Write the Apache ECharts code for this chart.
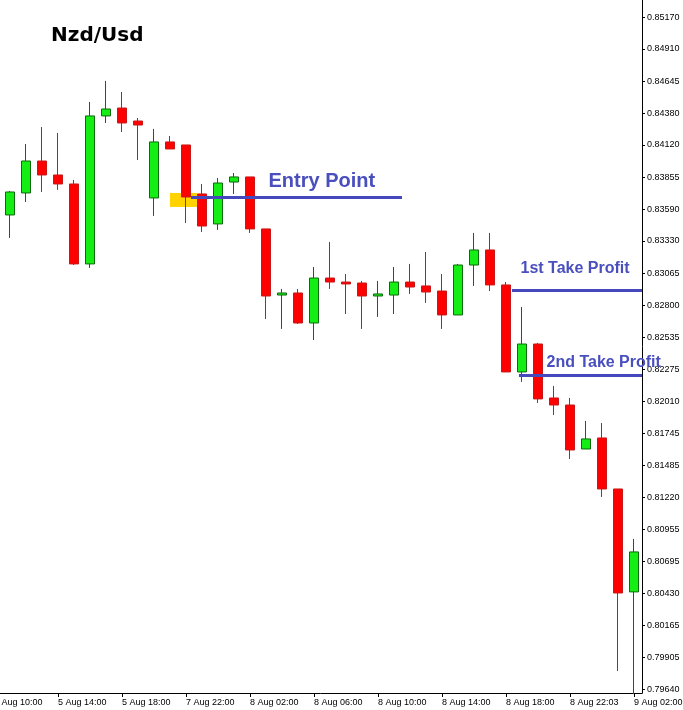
<!DOCTYPE html>
<html>
<head>
<meta charset="utf-8">
<script src="https://cdn.jsdelivr.net/npm/echarts@6/dist/echarts.min.js"></script>
<style>html,body{margin:0;padding:0;background:#fff}#c{width:683px;height:710px}</style>
</head>
<body>
<div id="c"></div>
<script>
// time slots (slot 0 is the partially hidden 5 Aug 10:00 bar)
const times = ['5 Aug 10:00','5 Aug 11:00','5 Aug 12:00','5 Aug 13:00','5 Aug 14:00','5 Aug 15:00','5 Aug 16:00','5 Aug 17:00',
  '5 Aug 18:00','7 Aug 19:00','7 Aug 20:00','7 Aug 21:00','7 Aug 22:00','7 Aug 23:00','8 Aug 00:00','8 Aug 01:00',
  '8 Aug 02:00','8 Aug 03:00','8 Aug 04:00','8 Aug 05:00','8 Aug 06:00','8 Aug 07:00','8 Aug 08:00','8 Aug 09:00',
  '8 Aug 10:00','8 Aug 11:00','8 Aug 12:00','8 Aug 13:00','8 Aug 14:00','8 Aug 15:00','8 Aug 16:00','8 Aug 17:00',
  '8 Aug 18:00','8 Aug 19:00','8 Aug 20:00','8 Aug 21:00','8 Aug 22:03','8 Aug 23:00','9 Aug 00:00','9 Aug 01:00','9 Aug 02:00'];
const xLabelSlots = [0,4,8,12,16,20,24,28,32,36,40];

// candles for slots 1..40
const opens  = [0.83543,0.83724,0.83987,0.83872,0.83798,0.83140,0.84358,0.84423,0.84316,0.83683,
                0.84144,0.84119,0.83716,0.83469,0.83814,0.83856,0.83428,0.82884,0.82901,0.82654,
                0.83024,0.82991,0.82983,0.82876,0.82884,0.82991,0.82959,0.82917,0.82720,0.83131,
                0.83255,0.82967,0.82251,0.82481,0.82037,0.81979,0.81617,0.81708,0.81288,0.80441];
const closes = [0.83732,0.83987,0.83872,0.83798,0.83140,0.84358,0.84415,0.84300,0.84283,0.84144,
                0.84086,0.83691,0.83452,0.83806,0.83856,0.83428,0.82876,0.82901,0.82654,0.83024,
                0.82991,0.82975,0.82876,0.82893,0.82991,0.82950,0.82909,0.82720,0.83131,0.83255,
                0.82967,0.82251,0.82481,0.82029,0.81979,0.81609,0.81700,0.81288,0.80432,0.80770];
const lows   = [0.83354,0.83650,0.83732,0.83749,0.83131,0.83107,0.84300,0.84226,0.83995,0.83535,
                0.84086,0.83477,0.83403,0.83419,0.83716,0.83395,0.82687,0.82605,0.82646,0.82514,
                0.82934,0.82728,0.82605,0.82704,0.82728,0.82893,0.82819,0.82605,0.82720,0.82959,
                0.82917,0.82251,0.82169,0.81996,0.81897,0.81535,0.81617,0.81222,0.79790,0.79600];
const highs  = [0.83740,0.84127,0.84267,0.84218,0.83831,0.84473,0.84646,0.84555,0.84341,0.84251,
                0.84193,0.84119,0.83798,0.83847,0.83888,0.83856,0.83428,0.82934,0.82934,0.83115,
                0.83321,0.83057,0.83000,0.83000,0.83115,0.83140,0.83238,0.83057,0.83140,0.83395,
                0.83395,0.82991,0.82786,0.82490,0.82136,0.82037,0.81848,0.81831,0.81288,0.80877];

const yTickValues = [0.79640,0.79905,0.80165,0.80430,0.80695,0.80955,0.81220,0.81485,0.81745,0.82010,0.82275,
                     0.82535,0.82800,0.83065,0.83330,0.83590,0.83855,0.84120,0.84380,0.84645,0.84910,0.85170];

const title = 'Nzd/Usd';
const lastPrice = 0.81889;

// annotation levels (in slot / price units)
const levelValues = [0.83687, 0.82926, 0.82222];
const levelFrom   = [12.31, 32.375, 32.81];
const levelTo     = [25.5, 40.5, 40.5];
const noteTexts   = ['Entry Point', '1st Take Profit', '2nd Take Profit'];
const noteX       = [17.125, 32.875, 34.5];
const noteY       = [0.83818, 0.83103, 0.82325];
const entryZoneX  = [11.0, 12.69];
const entryZoneY  = [0.83724, 0.83609];

const candleData = opens.map((o, i) => [i + 1, o, closes[i], lows[i], highs[i]]);
const blue = '#4449BE';

const chart = echarts.init(document.getElementById('c'), null, {renderer: 'canvas'});
chart.setOption({
  animation: false,
  backgroundColor: '#ffffff',
  title: {
    text: title, left: 51, top: 26, padding: 0,
    textStyle: {fontFamily: 'DejaVu Sans', fontWeight: 'bold', fontSize: 20, color: '#000'}
  },
  grid: {left: -14, right: 41, top: 0, bottom: 17, containLabel: false, outerBoundsMode: 'none'},
  xAxis: {
    type: 'value', min: -0.5, max: 40.5,
    splitLine: {show: false},
    axisLine: {show: true, onZero: false, lineStyle: {color: '#000', width: 1}},
    axisTick: {show: true, customValues: xLabelSlots, length: 4, lineStyle: {color: '#000'}},
    axisLabel: {
      customValues: xLabelSlots, formatter: v => times[Math.round(v)] || '',
      align: 'left', fontSize: 9, fontFamily: 'Liberation Sans', color: '#000', margin: 5
    }
  },
  yAxis: {
    type: 'value', position: 'right', min: 0.79609, max: 0.85312, scale: true,
    splitLine: {show: false},
    axisLine: {show: true, onZero: false, lineStyle: {color: '#000', width: 1}},
    axisTick: {show: true, customValues: yTickValues, length: 3, lineStyle: {color: '#000'}},
    axisLabel: {
      customValues: yTickValues, formatter: v => v.toFixed(5),
      fontSize: 9, fontFamily: 'Liberation Sans', color: '#000', margin: 5
    }
  },
  series: [
    {
      type: 'candlestick',
      data: candleData,
      barWidth: 10,
      clip: true,
      itemStyle: {
        color: '#14EE14', borderColor: '#0B6B0B',
        color0: '#FF0000', borderColor0: '#C81818', borderWidth: 1, opacity: 1
      },
      markArea: {
        silent: true,
        itemStyle: {color: '#FFD200', opacity: 1},
        data: [[{coord: [entryZoneX[0], entryZoneY[0]]}, {coord: [entryZoneX[1], entryZoneY[1]]}]]
      },
      markLine: {
        silent: true, symbol: 'none', animation: false,
        data: levelValues.map((v, i) => [
          {coord: [levelFrom[i], v], lineStyle: {color: blue, width: 3, type: 'solid', opacity: 1}, label: {show: false}},
          {coord: [levelTo[i], v]}
        ]).concat([{
          yAxis: lastPrice,
          lineStyle: {opacity: 0, width: 0},
          label: {
            show: true, position: 'end', distance: 0, formatter: lastPrice.toFixed(5),
            backgroundColor: '#000', color: '#fff', fontSize: 9, fontFamily: 'Liberation Sans',
            padding: [1, 6, 1, 5]
          }
        }])
      }
    },
    {
      type: 'scatter',
      symbolSize: 1,
      silent: true,
      itemStyle: {color: 'rgba(0,0,0,0)', opacity: 1},
      data: noteTexts.map((t, i) => ({
        value: [noteX[i], noteY[i]], name: t,
        label: {fontSize: i === 0 ? 20 : 16}
      })),
      label: {
        show: true, position: 'right', distance: 0, formatter: p => p.name,
        color: '#4A4FBE', fontWeight: 'bold', fontFamily: 'Liberation Sans', opacity: 1
      },
      z: 6
    }
  ]
});
</script>
</body>
</html>
